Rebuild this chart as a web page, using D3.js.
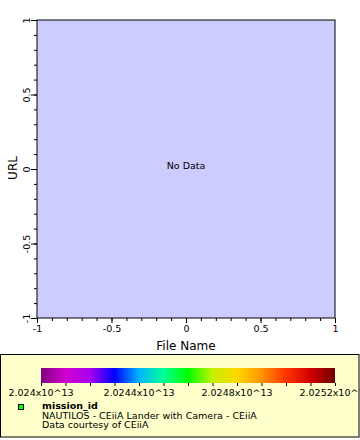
<!DOCTYPE html>
<html><head><meta charset="utf-8">
<script src="https://cdn.jsdelivr.net/npm/d3@7"></script>
<style>body{margin:0;background:#fff;}svg{display:block;font-family:"DejaVu Sans",sans-serif;}</style>
</head><body><svg id="c" width="360" height="440"></svg>
<script>
const xDomain = [-1, 1];
const yDomain = [-1, 1];
const xTickLabels = [-1, -0.5, 0, 0.5, 1];
const yTickLabels = [-1, -0.5, 0, 0.5, 1];
const xLabel = "File Name";
const yLabel = "URL";
const noDataText = "No Data";
const colorDomain = [2.024e13, 2.0252e13];
const colorTickValues = [2.024e13, 2.0244e13, 2.0248e13, 2.0252e13];
const colorTickLabels = ["2.024x10^13", "2.0244x10^13", "2.0248x10^13", "2.0252x10^13"];
const colorStops = ["#800080","#d000d0","#a800f0","#0000ff","#00b4ff","#00ff96","#00ff00","#c4f000","#ffd800","#ff9400","#ff3400","#d00000","#700000"];
const legendTitle = "mission_id";
const legendLines = ["NAUTILOS - CEiiA Lander with Camera - CEiiA", "Data courtesy of CEiiA"];
const legendColor = "#00ff00";

const FS = 9.5;
const fmt = d => String(d);
const svg = d3.select("#c");
const L = 37, R = 335, T = 20, B = 318;
const x = d3.scaleLinear().domain(xDomain).range([L, R]);
const y = d3.scaleLinear().domain(yDomain).range([B, T]);

svg.append("rect").attr("x", L).attr("y", T).attr("width", R - L).attr("height", B - T)
  .attr("fill", "#ccccff").attr("stroke", "#000").attr("stroke-width", 1);

const minor = d3.range(-10, 11).map(i => i / 10);
// x axis
const gx = svg.append("g").attr("transform", `translate(0,${B})`);
gx.call(d3.axisBottom(x).tickValues(minor).tickSize(3).tickFormat(""))
  .call(g => g.select(".domain").remove());
gx.append("g").call(d3.axisBottom(x).tickValues(xTickLabels).tickSize(5).tickPadding(2).tickFormat(fmt))
  .call(g => g.select(".domain").remove())
  .call(g => g.selectAll("text").attr("font-size", FS).attr("fill", "#000").attr("font-family", "DejaVu Sans"));
// y axis
const gy = svg.append("g").attr("transform", `translate(${L},0)`);
gy.call(d3.axisLeft(y).tickValues(minor).tickSize(3).tickFormat(""))
  .call(g => g.select(".domain").remove());
const gy2 = gy.append("g").call(d3.axisLeft(y).tickValues(yTickLabels).tickSize(6).tickFormat(fmt))
  .call(g => g.select(".domain").remove());
gy2.selectAll("text").attr("font-size", FS).attr("fill", "#000").attr("font-family", "DejaVu Sans")
  .attr("x", null).attr("text-anchor", "middle")
  .attr("transform", "translate(-10,0) rotate(-90)").attr("y", 0).attr("dy", "0.32em");

svg.append("text").attr("x", (L + R) / 2).attr("y", 350).attr("text-anchor", "middle")
  .attr("font-size", 12).text(xLabel);
svg.append("text").attr("transform", `translate(17,${(T + B) / 2 - 1}) rotate(-90)`).attr("text-anchor", "middle")
  .attr("font-size", 12).text(yLabel);
svg.append("text").attr("x", (L + R) / 2).attr("y", y(0)).attr("text-anchor", "middle")
  .attr("font-size", FS).text(noDataText);

// legend box
svg.append("rect").attr("x", 0.5).attr("y", 354.5).attr("width", 358.5).attr("height", 82.5)
  .attr("fill", "#ffffcc").attr("stroke", "#000").attr("stroke-width", 1);

const cx = d3.scaleLinear().domain(colorDomain).range([41, 335]);
const stopScale = d3.scaleLinear().domain(d3.range(colorStops.length).map(i => i / (colorStops.length - 1))).range(colorStops).interpolate(d3.interpolateRgb);
const grad = svg.append("defs").append("linearGradient").attr("id", "cb");
d3.range(0, 49).map(i => i / 48).forEach(t => grad.append("stop").attr("offset", t).attr("stop-color", stopScale(t)));
svg.append("rect").attr("x", 41).attr("y", 368).attr("width", 294).attr("height", 15).attr("fill", "url(#cb)");
const cTicks = d3.range(0, 13).map(i => colorDomain[0] + i * (colorDomain[1] - colorDomain[0]) / 12);
svg.append("g").attr("transform", "translate(0,383)")
  .call(d3.axisBottom(cx).tickValues(cTicks).tickSize(3).tickFormat(""))
  .call(g => g.select(".domain").remove());
svg.append("g").selectAll("text").data(colorTickValues).join("text")
  .attr("x", d => cx(d)).attr("y", 396).attr("text-anchor", "middle").attr("font-size", FS)
  .text((d, i) => colorTickLabels[i]);

svg.append("rect").attr("x", 18.5).attr("y", 404.5).attr("width", 5).attr("height", 5)
  .attr("fill", legendColor).attr("stroke", "#000").attr("stroke-width", 1);
svg.append("text").attr("x", 42).attr("y", 409).attr("font-size", FS).attr("font-weight", "bold").text(legendTitle);
svg.append("g").selectAll("text").data(legendLines).join("text")
  .attr("x", 42).attr("y", (d, i) => 418.5 + i * 9.5).attr("font-size", FS).text(d => d);
</script></body></html>
